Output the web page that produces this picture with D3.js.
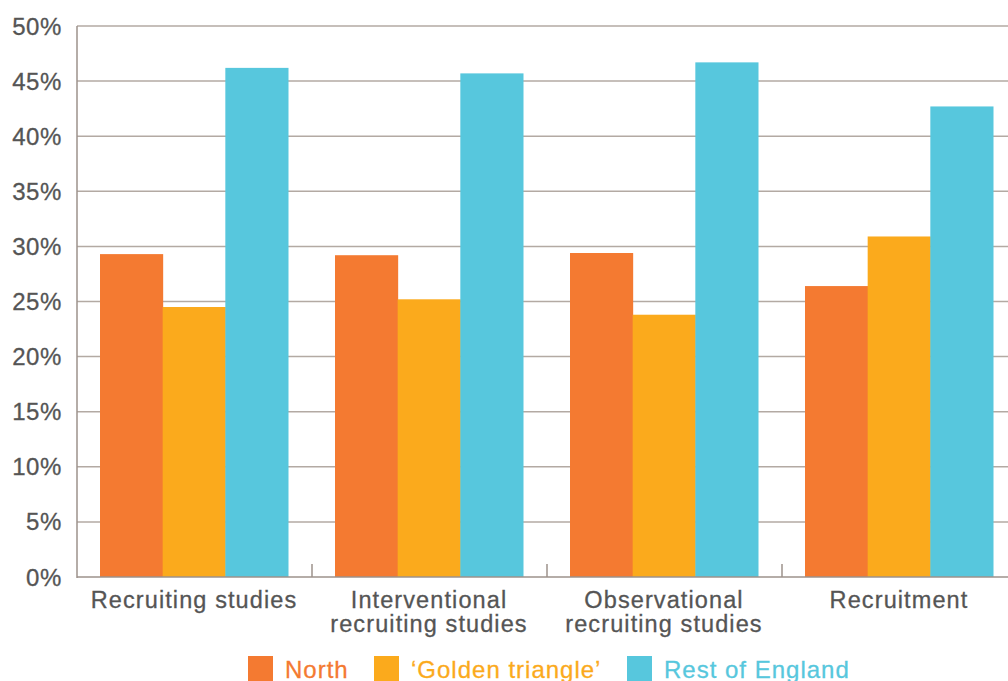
<!DOCTYPE html>
<html><head><meta charset="utf-8">
<script src="https://cdn.jsdelivr.net/npm/d3@7"></script>
<style>body{margin:0;background:#fff}svg{display:block}</style>
</head><body>
<svg id="c" width="1008" height="681"></svg>
<script>
(function(){
const categories = [["Recruiting studies"],["Interventional","recruiting studies"],["Observational","recruiting studies"],["Recruitment"]];
const seriesNames = ["North","\u2018Golden triangle\u2019","Rest of England"];
const north = [29.3, 29.2, 29.4, 26.4];
const golden = [24.5, 25.2, 23.8, 30.9];
const rest = [46.2, 45.7, 46.7, 42.7];
const yTicks = [0,5,10,15,20,25,30,35,40,45,50];
const colors = ["#F47A31","#FBAA1C","#57C7DD"];

const svg = d3.select("#c");
const mLeft = 77, mTop = 26, mBottom = 577, band = 235;
const font = "'Liberation Sans', Arial, Helvetica, sans-serif";
const x = d3.scaleBand().domain(d3.range(categories.length)).range([mLeft, mLeft + band*categories.length]).paddingInner(0).paddingOuter(0);
const xs = d3.scaleBand().domain(d3.range(3)).range([23, 23+188]);
const y = d3.scaleLinear().domain([0,50]).range([mBottom, mTop]);
const series = [north, golden, rest];

svg.append("g").selectAll("line").data(yTicks.filter(t=>t>0)).join("line")
  .attr("x1", mLeft).attr("x2", 1008).attr("y1", d=>y(d)).attr("y2", d=>y(d))
  .attr("stroke", "#b3aaa3").attr("stroke-width", 1.5);

const g = svg.append("g");
series.forEach((s, si) => {
  g.selectAll(null).data(s).join("rect")
    .attr("x", (d,i)=>x(i)+xs(si)).attr("width", xs.bandwidth()+0.5)
    .attr("y", d=>y(d)).attr("height", d=>y(0)-y(d))
    .attr("fill", colors[si]);
});

svg.append("line").attr("x1", mLeft).attr("x2", mLeft).attr("y1", mTop).attr("y2", mBottom+1)
  .attr("stroke", "#9d928b").attr("stroke-width", 1.5);
svg.append("line").attr("x1", mLeft).attr("x2", 1008).attr("y1", mBottom).attr("y2", mBottom)
  .attr("stroke", "#9d928b").attr("stroke-width", 1.5);
svg.append("g").selectAll("line").data(d3.range(1, categories.length)).join("line")
  .attr("x1", d=>x(d)).attr("x2", d=>x(d)).attr("y1", mBottom-13).attr("y2", mBottom)
  .attr("stroke", "#9d928b").attr("stroke-width", 1.5);

svg.append("g").selectAll("text").data(yTicks).join("text")
  .attr("x", 62).attr("y", d=>y(d)+8.5).attr("text-anchor","end")
  .attr("font-family", font).attr("font-size", 24).attr("letter-spacing", 0.6)
  .attr("fill", "#555555").attr("stroke", "#555555").attr("stroke-width", 0.3).text(d=>d+"%");

const xl = svg.append("g").selectAll("text").data(categories).join("text")
  .attr("text-anchor","middle").attr("font-family", font).attr("font-size", 23.5)
  .attr("letter-spacing", 1.1).attr("fill", "#555555").attr("stroke", "#555555").attr("stroke-width", 0.3);
xl.each(function(lines, i){
  d3.select(this).selectAll("tspan").data(lines).join("tspan")
    .attr("x", x(i)+xs(1)+xs.bandwidth()/2).attr("y", (d,j)=>608+j*23.5).text(d=>d);
});

const legX = [248, 374, 627];
const lg = svg.append("g");
seriesNames.forEach((n,i)=>{
  lg.append("rect").attr("x", legX[i]).attr("y", 656).attr("width", 25).attr("height", 25).attr("fill", colors[i]);
  lg.append("text").attr("x", legX[i]+37).attr("y", 678).attr("font-family", font).attr("font-size", 24)
    .attr("letter-spacing", 1.0).attr("fill", colors[i]).attr("stroke", colors[i]).attr("stroke-width", 0.3).text(n);
});
})();
</script>
</body></html>
